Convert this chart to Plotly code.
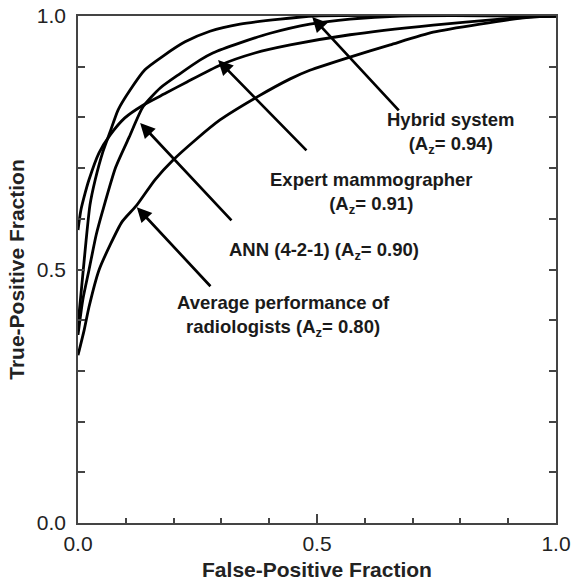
import plotly.graph_objects as go

# ROC curves (FPF, TPF)
hybrid_fpf = [0, 0.008, 0.017, 0.025, 0.036, 0.052, 0.067, 0.084, 0.109, 0.140, 0.178, 0.224, 0.276, 0.339, 0.423, 0.496, 1.0]
hybrid_tpf = [0.391, 0.469, 0.558, 0.627, 0.677, 0.732, 0.771, 0.815, 0.854, 0.894, 0.921, 0.949, 0.970, 0.984, 0.994, 1.0, 1.0]

expert_fpf = [0, 0.006, 0.015, 0.023, 0.044, 0.067, 0.098, 0.136, 0.184, 0.228, 0.297, 0.370, 0.444, 0.569, 0.743, 0.883, 0.946, 1.0]
expert_tpf = [0.578, 0.617, 0.651, 0.677, 0.730, 0.765, 0.799, 0.824, 0.848, 0.870, 0.903, 0.927, 0.943, 0.963, 0.982, 0.994, 0.998, 1.0]

ann_fpf = [0, 0.010, 0.023, 0.038, 0.052, 0.079, 0.107, 0.136, 0.172, 0.213, 0.255, 0.282, 0.339, 0.402, 0.485, 0.569, 0.674, 1.0]
ann_tpf = [0.371, 0.440, 0.499, 0.568, 0.617, 0.702, 0.761, 0.821, 0.858, 0.886, 0.913, 0.927, 0.947, 0.966, 0.984, 0.994, 1.0, 1.0]

rad_fpf = [0, 0.013, 0.023, 0.044, 0.067, 0.092, 0.123, 0.161, 0.199, 0.245, 0.297, 0.374, 0.444, 0.485, 0.569, 0.653, 0.743, 0.841, 0.946, 1.0]
rad_tpf = [0.331, 0.381, 0.426, 0.499, 0.548, 0.594, 0.627, 0.677, 0.716, 0.755, 0.795, 0.840, 0.876, 0.893, 0.919, 0.943, 0.968, 0.984, 0.998, 1.0]

# labels: text, label centre (x, y), arrow tail (x, y), arrow tip (x, y)
label_texts = [
    "Hybrid system<br>(A<sub>z</sub>= 0.94)",
    "Expert mammographer<br>(A<sub>z</sub>= 0.91)",
    "ANN (4-2-1) (A<sub>z</sub>= 0.90)",
    "Average performance of<br>radiologists (A<sub>z</sub>= 0.80)",
]
label_x = [0.780, 0.613, 0.515, 0.429]
label_y = [0.769, 0.650, 0.536, 0.408]
arrow_tail_x = [0.674, 0.481, 0.324, 0.280]
arrow_tail_y = [0.811, 0.732, 0.594, 0.464]
arrow_tip_x = [0.490, 0.293, 0.130, 0.123]
arrow_tip_y = [0.998, 0.913, 0.789, 0.623]

x_tickvals = [0, 0.5, 1.0]
x_ticktext = ["0.0", "0.5", "1.0"]
y_tickvals = [0, 0.5, 1.0]
y_ticktext = ["0.0", "0.5", "1.0"]

fig = go.Figure()
line_style = dict(color="black", width=2.8)
for fx, ty, name in [(hybrid_fpf, hybrid_tpf, "Hybrid system"),
                     (expert_fpf, expert_tpf, "Expert mammographer"),
                     (ann_fpf, ann_tpf, "ANN (4-2-1)"),
                     (rad_fpf, rad_tpf, "Average radiologists")]:
    fig.add_trace(go.Scatter(x=fx, y=ty, mode="lines", line=dict(shape="spline", smoothing=0.6, **line_style),
                             name=name, showlegend=False, hoverinfo="skip"))

for t, lx, ly in zip(label_texts, label_x, label_y):
    fig.add_annotation(x=lx, y=ly, xref="x", yref="y", text=t, showarrow=False,
                       font=dict(family="Liberation Sans, Arial", size=18.5, color="#1a1a1a", weight="bold"),
                       align="center")

for tx, ty, hx, hy in zip(arrow_tail_x, arrow_tail_y, arrow_tip_x, arrow_tip_y):
    fig.add_annotation(x=hx, y=hy, ax=tx, ay=ty, xref="x", yref="y", axref="x", ayref="y",
                       text="", showarrow=True, arrowhead=2, arrowsize=1.1, arrowwidth=2.7,
                       arrowcolor="black", standoff=0, startstandoff=0)

axis_font = dict(family="Liberation Sans, Arial", size=21, color="#222")
title_font = dict(family="Liberation Sans, Arial", size=21, color="#222", weight="bold")

fig.update_xaxes(range=[0, 1], tickvals=x_tickvals, ticktext=x_ticktext, ticks="inside", ticklen=9,
                 tickwidth=1.5, tickcolor="#444", showline=True, linecolor="#444", linewidth=1.5,
                 mirror=True, showgrid=False, zeroline=False, tickfont=axis_font, automargin=False,
                 ticklabelstandoff=1,
                 minor=dict(dtick=0.1, ticks="inside", ticklen=5, tickwidth=1.5, tickcolor="#444", showgrid=False),
                 title=dict(text="False-Positive Fraction", font=title_font, standoff=8))
fig.update_yaxes(range=[0, 1], tickvals=y_tickvals, ticktext=y_ticktext, ticks="inside", ticklen=7,
                 tickwidth=1.5, tickcolor="#444", showline=True, linecolor="#444", linewidth=1.5,
                 mirror="ticks", showgrid=False, zeroline=False, tickfont=axis_font, automargin=False,
                 ticklabelstandoff=6,
                 minor=dict(dtick=0.1, ticks="inside", ticklen=7, tickwidth=1.5, tickcolor="#444", showgrid=False),
                 title=dict(text="True-Positive Fraction", font=title_font, standoff=6))

fig.update_layout(width=571, height=588, margin=dict(l=78, r=15, t=16, b=65),
                  plot_bgcolor="white", paper_bgcolor="white", showlegend=False)

fig.write_html("out.html", config={"displayModeBar": False},
               post_script="document.body.style.margin='0';document.body.style.overflow='hidden';")
